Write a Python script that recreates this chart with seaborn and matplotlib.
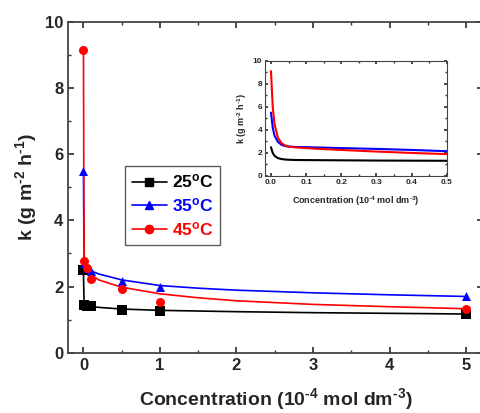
import matplotlib
matplotlib.use("Agg")
import matplotlib.pyplot as plt
import seaborn as sns
import pandas as pd
from matplotlib.lines import Line2D
from matplotlib.ticker import MultipleLocator, FormatStrFormatter

sns.set_theme(style="ticks")
plt.rcParams['font.family'] = ['Liberation Sans', 'DejaVu Sans']
plt.rcParams['font.weight'] = 'bold'
plt.rcParams['mathtext.fontset'] = 'custom'
plt.rcParams['mathtext.rm'] = 'Liberation Sans:bold'
plt.rcParams['mathtext.bf'] = 'Liberation Sans:bold'
plt.rcParams['mathtext.it'] = 'Liberation Sans:bold'
plt.rcParams['mathtext.default'] = 'bf'

# measured points
conc = [0, 0.01, 0.05, 0.1, 0.5, 1, 5]
k25 = [2.5, 1.45, 1.42, 1.40, 1.30, 1.25, 1.17]
k35 = [5.5, 2.72, 2.55, 2.46, 2.17, 1.98, 1.70]
k45 = [9.15, 2.77, 2.56, 2.22, 1.93, 1.54, 1.33]

# fitted curves (main)
cx = [0, 0.005, 0.01, 0.02, 0.05, 0.1, 0.2, 0.5, 1, 1.5, 2, 3, 4, 5]
c25 = [2.5, 1.8, 1.5, 1.45, 1.42, 1.40, 1.37, 1.32, 1.28, 1.26, 1.24, 1.21, 1.19, 1.17]
c35 = [5.5, 3.6, 2.75, 2.65, 2.55, 2.47, 2.38, 2.2, 2.03, 1.95, 1.89, 1.81, 1.75, 1.70]
c45 = [9.15, 5.0, 2.9, 2.7, 2.5, 2.35, 2.2, 1.98, 1.78, 1.66, 1.57, 1.46, 1.39, 1.33]

# fitted curves (inset)
ix = [0, 0.005, 0.01, 0.02, 0.03, 0.04, 0.05, 0.07, 0.1, 0.15, 0.2, 0.3, 0.4, 0.5]
i25 = [2.5, 2.0, 1.75, 1.55, 1.47, 1.43, 1.41, 1.39, 1.38, 1.37, 1.36, 1.34, 1.33, 1.32]
i35 = [5.5, 4.2, 3.5, 2.95, 2.7, 2.6, 2.55, 2.52, 2.5, 2.46, 2.42, 2.35, 2.26, 2.15]
i45 = [9.1, 6.0, 4.5, 3.3, 2.85, 2.65, 2.55, 2.48, 2.42, 2.33, 2.26, 2.12, 2.0, 1.9]

labels = ['25$^{\\mathregular{o}}$C', '35$^{\\mathregular{o}}$C', '45$^{\\mathregular{o}}$C']
colors = ['black', '#0000ff', '#ff0000']
markers = ['s', '^', 'o']

XLAB = 'Concentration (10$^{\\mathregular{\\text{-}4}}$ mol dm$^{\\mathregular{\\text{-}3}}$)'
YLAB = 'k (g m$^{\\mathregular{\\text{-}2}}$ h$^{\\mathregular{\\text{-}1}}$)'

fig = plt.figure(figsize=(4.8, 4.13), dpi=100)
ax = fig.add_axes([0.142, 0.146, 0.864, 0.801])

for kv, cv, col, mk in zip([k25, k35, k45], [c25, c35, c45], colors, markers):
    sns.lineplot(x=cx, y=cv, ax=ax, color=col, lw=1.2, sort=False, estimator=None)
    sns.scatterplot(x=conc, y=kv, ax=ax, color=col, marker=mk, s=42, edgecolor=col, linewidth=0, zorder=3)

ax.set_xlim(-0.2, 5.22)
ax.set_ylim(0, 10)
ax.xaxis.set_major_locator(MultipleLocator(1))
ax.xaxis.set_minor_locator(MultipleLocator(0.5))
ax.yaxis.set_major_locator(MultipleLocator(2))
ax.yaxis.set_minor_locator(MultipleLocator(1))
ax.tick_params(which='both', direction='in', top=True, right=True, labelsize=12, color='#333333')
ax.tick_params(which='major', length=4)
ax.tick_params(which='minor', length=2.5)
for lab in ax.get_xticklabels() + ax.get_yticklabels():
    lab.set_fontweight('bold')
for sp in ax.spines.values():
    sp.set_color('#444444')
    sp.set_linewidth(1.3)
ax.set_xlabel(XLAB, fontsize=14, fontweight='bold', labelpad=10)
ax.set_ylabel(YLAB, fontsize=14, fontweight='bold', labelpad=4)

handles = [Line2D([], [], color=c, marker=m, lw=1.2, markersize=6) for c, m in zip(colors, markers)]
leg = ax.legend(handles, labels, loc='upper left', bbox_to_anchor=(0.137, 0.565), borderaxespad=0,
                frameon=True, fancybox=False, edgecolor='#333333', prop={'size': 12.5, 'weight': 'bold'},
                handlelength=2.0, labelspacing=0.33, borderpad=0.4, handletextpad=0.3)
leg.get_frame().set_linewidth(1.0)
for t, c in zip(leg.get_texts(), colors):
    t.set_color(c)

# inset
ins = fig.add_axes([265 / 480, 1 - 176 / 413, (446.7 - 265) / 480, (176 - 60.7) / 413])
for cv, col in zip([i25, i35, i45], colors):
    sns.lineplot(x=ix, y=cv, ax=ins, color=col, lw=1.5, sort=False, estimator=None)
ins.set_xlim(-0.017, 0.5)
ins.set_ylim(0, 10)
ins.xaxis.set_major_locator(MultipleLocator(0.1))
ins.xaxis.set_minor_locator(MultipleLocator(0.05))
ins.yaxis.set_major_locator(MultipleLocator(2))
ins.yaxis.set_minor_locator(MultipleLocator(1))
ins.tick_params(which='both', direction='in', top=True, right=True, labelsize=6, pad=2, color='#333333')
ins.tick_params(which='major', length=2.5)
ins.tick_params(which='minor', length=1.5)
for lab in ins.get_xticklabels() + ins.get_yticklabels():
    lab.set_fontweight('bold')
for sp in ins.spines.values():
    sp.set_color('#444444')
    sp.set_linewidth(0.8)
ins.set_xlabel(XLAB, fontsize=6.5, fontweight='bold', labelpad=6)
ins.set_ylabel(YLAB, fontsize=6.5, fontweight='bold', labelpad=3)
ins.xaxis.set_major_formatter(FormatStrFormatter('%.1f'))

fig.savefig('out.png', dpi=100)
